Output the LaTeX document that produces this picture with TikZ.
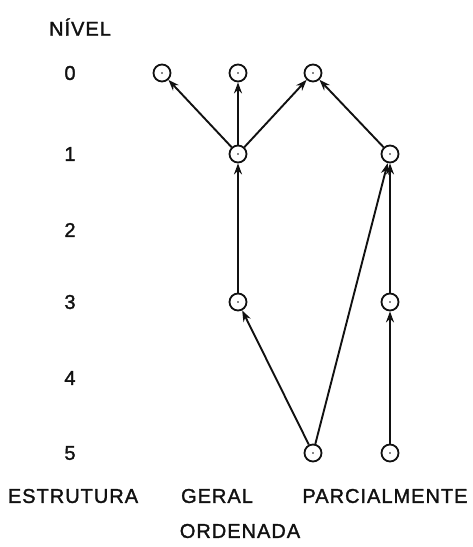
\documentclass[tikz,border=0pt]{standalone}
\usepackage{fontspec}
\setmainfont{Liberation Sans}
\newfontfamily\nivfont[LetterSpace=5, FakeBold=1.5]{Liberation Sans}
\usetikzlibrary{arrows.meta}
\definecolor{nivInk}{HTML}{111111}
\tikzset{
  niv point/.style={circle, draw=nivInk, line width=1.8pt, minimum size=17pt, inner sep=0pt,
    path picture={\fill[nivInk] (path picture bounding box.center) circle (0.9pt);}},
  niv edge/.style={draw=nivInk, line width=1.9pt, -{Stealth[length=11pt, width=8pt]}},
  niv label/.style={font=\nivfont\fontsize{20}{23}\selectfont, text=nivInk, inner sep=0pt},
}

\begin{document}
\begin{tikzpicture}[x=1pt, y=-1pt]
  \useasboundingbox (0,0) rectangle (473,547);

  % Level labels
  \node[niv label] (titulo) at (80,27) {NÍVEL};
  \foreach \lv/\yy in {0/73, 1/154, 2/230, 3/302, 4/378, 5/453} {
    \node[niv label] (lv\lv) at (70,\yy) {\lv};
  }

  % Points of the structure
  \node[niv point] (n0a) at (162,73) {};
  \node[niv point] (n0b) at (238,73) {};
  \node[niv point] (n0c) at (313,73) {};
  \node[niv point] (n1a) at (238,154) {};
  \node[niv point] (n1b) at (390,154) {};
  \node[niv point] (n3a) at (238,302) {};
  \node[niv point] (n3b) at (390,302) {};
  \node[niv point] (n5a) at (313,453) {};
  \node[niv point] (n5b) at (390,453) {};

  % Order relations
  \draw[niv edge] (n1a) -- (n0a);
  \draw[niv edge] (n1a) -- (n0b);
  \draw[niv edge] (n1a) -- (n0c);
  \draw[niv edge] (n1b) -- (n0c);
  \draw[niv edge] (n3a) -- (n1a);
  \draw[niv edge] (n5a) -- (n3a);
  \draw[niv edge] (n5a) -- (n1b);
  \draw[niv edge] (n3b) -- (n1b);
  \draw[niv edge] (n5b) -- (n3b);

  % Caption
  \node[niv label] (cap1) at (73,496) {ESTRUTURA};
  \node[niv label] (cap2) at (217,496) {GERAL};
  \node[niv label] (cap3) at (385,496) {PARCIALMENTE};
  \node[niv label] (cap4) at (240,531) {ORDENADA};
\end{tikzpicture}
\end{document}
